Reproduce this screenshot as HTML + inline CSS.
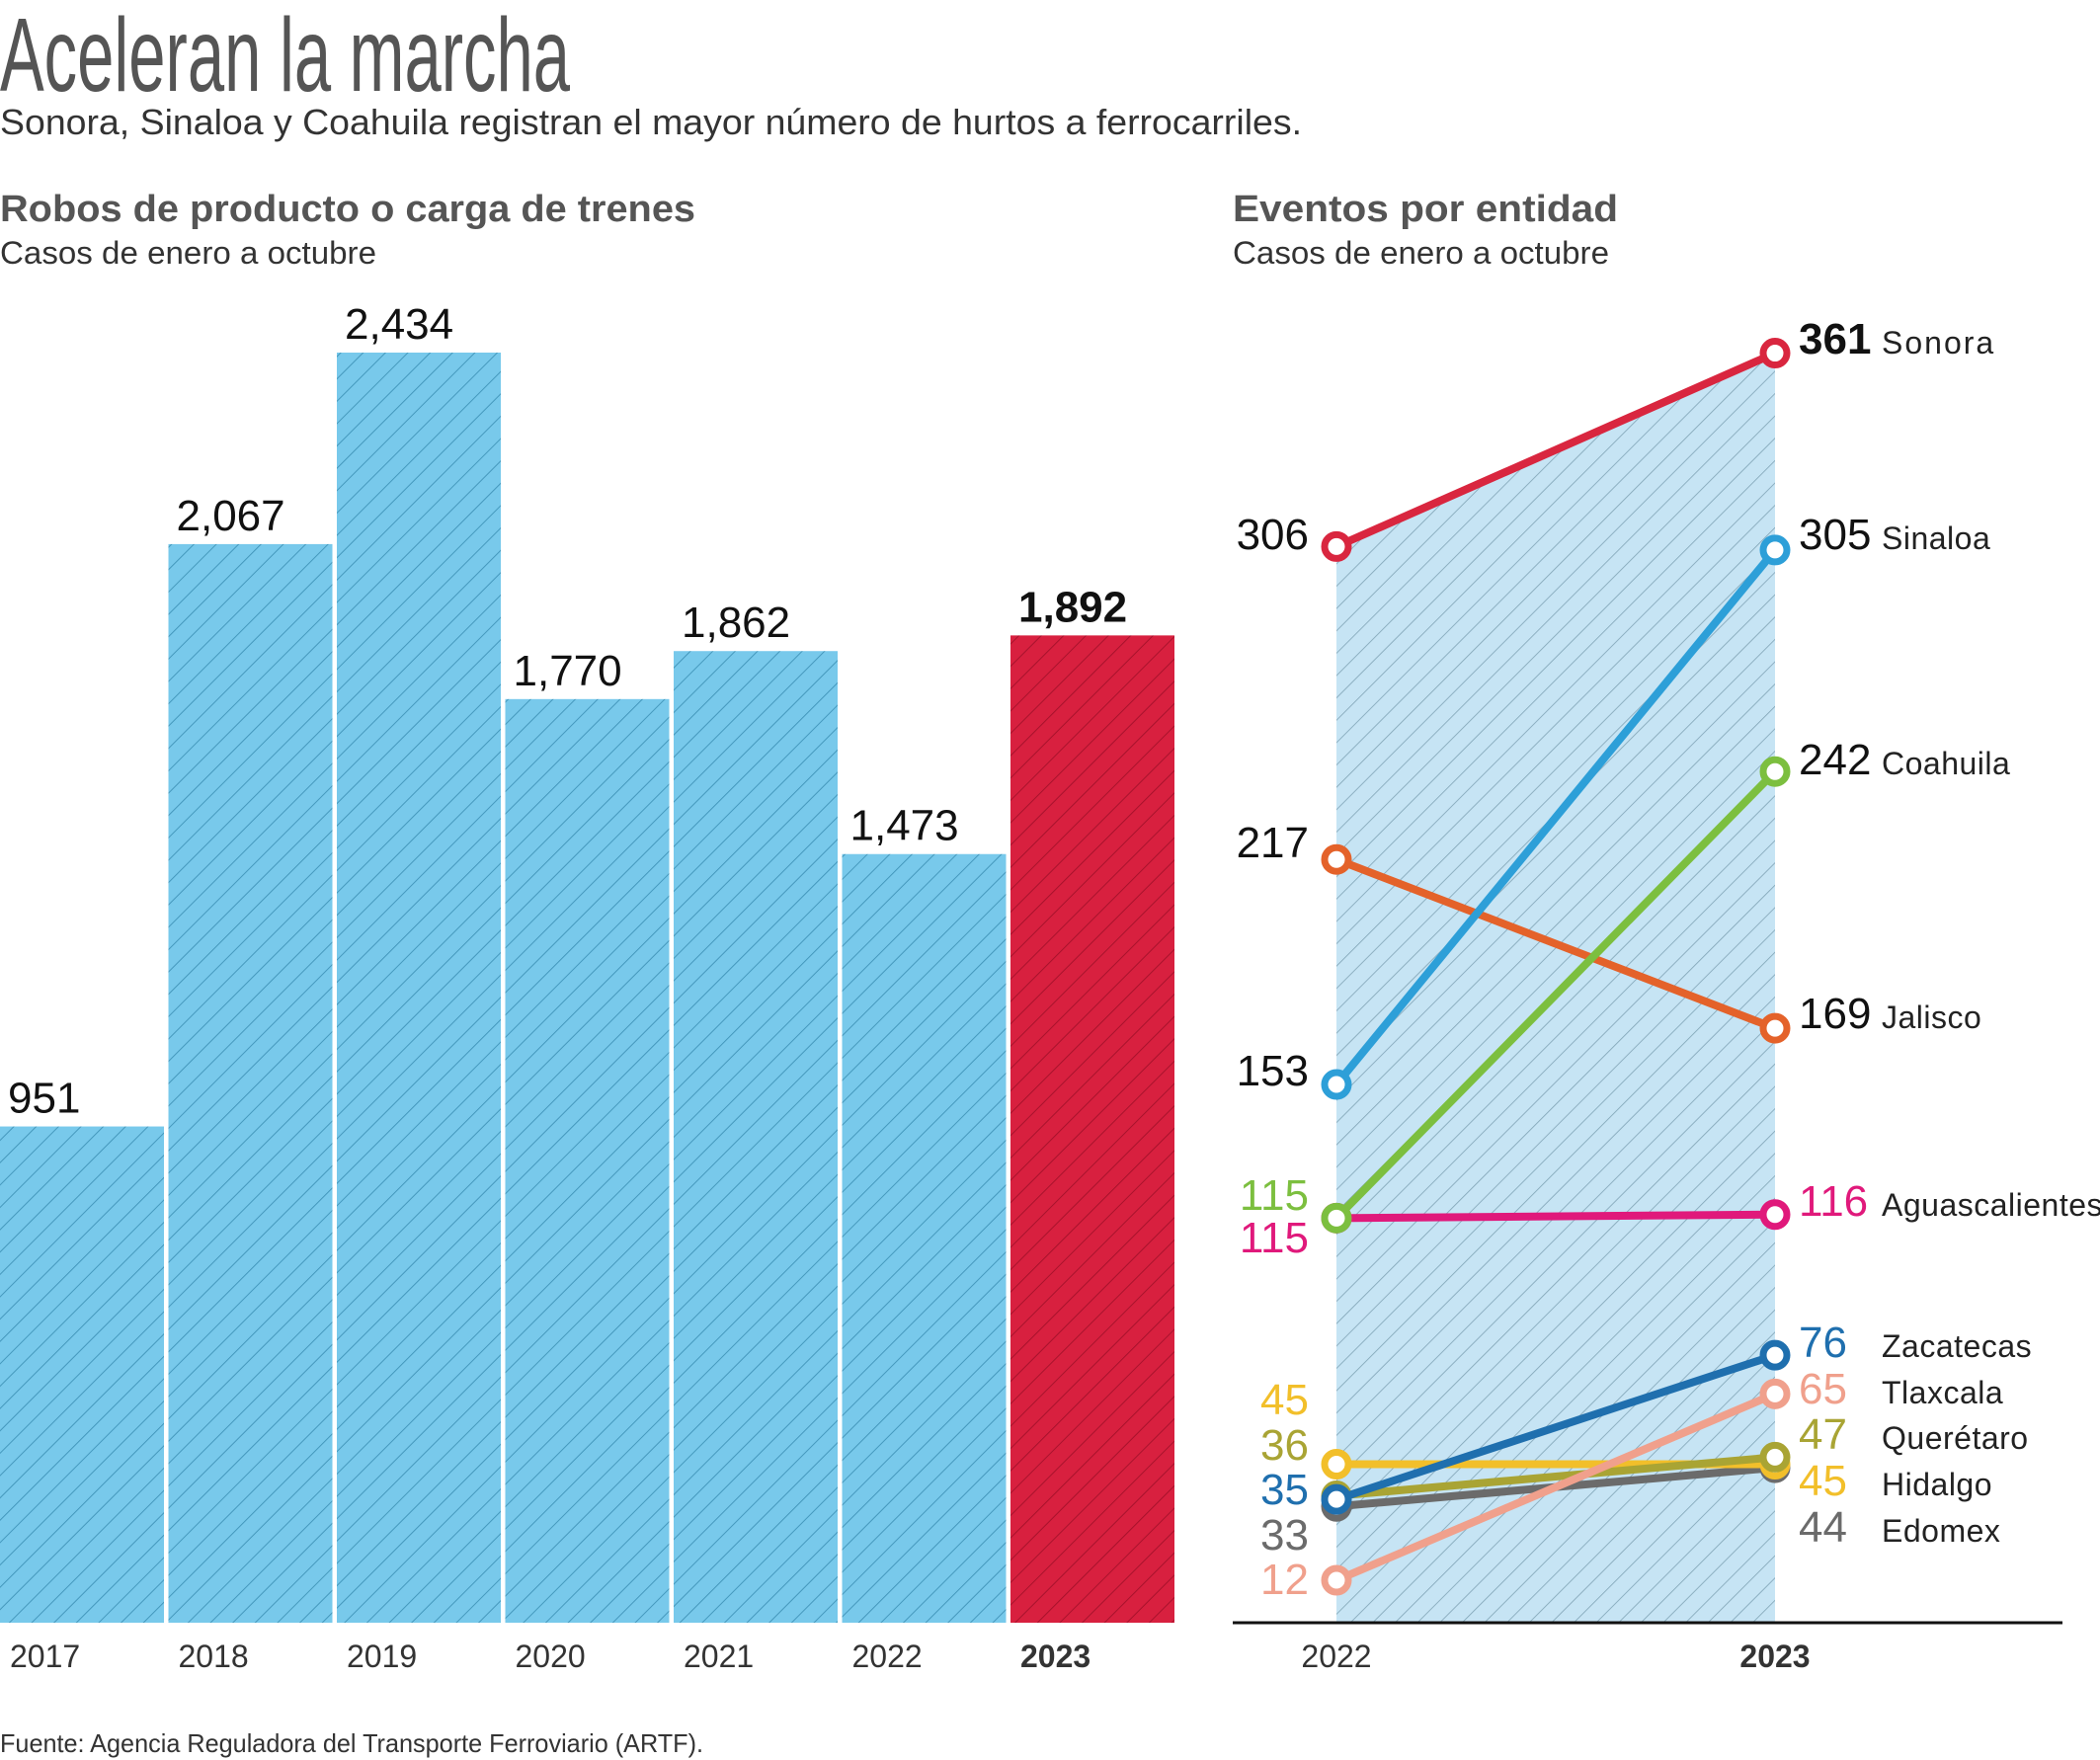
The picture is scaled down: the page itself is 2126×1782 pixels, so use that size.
<!DOCTYPE html>
<html><head><meta charset="utf-8"><style>
html,body{margin:0;padding:0;background:#fff;}
svg{display:block;font-family:"Liberation Sans",sans-serif;}
</style></head><body>
<svg id="c" width="2126" height="1782" viewBox="0 0 2126 1782" xmlns="http://www.w3.org/2000/svg">
<defs>
<pattern id="hb" patternUnits="userSpaceOnUse" width="16" height="16" patternTransform="rotate(45)">
<rect width="16" height="16" fill="#78c9eb"/><line x1="0" y1="0" x2="0" y2="16" stroke="#3f93b8" stroke-width="1.8"/></pattern>
<pattern id="hr" patternUnits="userSpaceOnUse" width="16" height="16" patternTransform="rotate(45)">
<rect width="16" height="16" fill="#d8203f"/><line x1="0" y1="0" x2="0" y2="16" stroke="#a3112a" stroke-width="1.8"/></pattern>
<pattern id="hs" patternUnits="userSpaceOnUse" width="16" height="16" patternTransform="rotate(45)">
<rect width="16" height="16" fill="#c6e4f4"/><line x1="0" y1="0" x2="0" y2="16" stroke="#7fa3b5" stroke-width="1.6"/></pattern>
</defs>
<text x="0" y="92" font-family="'Liberation Sans Narrow','Liberation Sans',sans-serif" font-size="106" fill="#555" textLength="577" lengthAdjust="spacingAndGlyphs">Aceleran la marcha</text>
<text x="0" y="136" font-size="36" fill="#333" textLength="1318" lengthAdjust="spacingAndGlyphs">Sonora, Sinaloa y Coahuila registran el mayor número de hurtos a ferrocarriles.</text>
<text x="0" y="224" font-size="38" font-weight="bold" fill="#555" textLength="704" lengthAdjust="spacingAndGlyphs">Robos de producto o carga de trenes</text>
<text x="0" y="267" font-size="32" fill="#333" textLength="381" lengthAdjust="spacingAndGlyphs">Casos de enero a octubre</text>
<text x="1248" y="224" font-size="38" font-weight="bold" fill="#555" textLength="390" lengthAdjust="spacingAndGlyphs">Eventos por entidad</text>
<text x="1248" y="267" font-size="32" fill="#333" textLength="381" lengthAdjust="spacingAndGlyphs">Casos de enero a octubre</text>
<g id="bars"></g>
<g id="slope"></g>
<text x="0" y="1774" font-size="26" fill="#333" textLength="712" lengthAdjust="spacingAndGlyphs">Fuente: Agencia Reguladora del Transporte Ferroviario (ARTF).</text>
</svg>
<script>
const years = ["2017","2018","2019","2020","2021","2022","2023"];
const robos = [951, 2067, 2434, 1770, 1862, 1473, 1892];

const states = ["Sonora","Sinaloa","Coahuila","Jalisco","Aguascalientes","Zacatecas","Tlaxcala","Querétaro","Hidalgo","Edomex"];
const v2022 = [306, 153, 115, 217, 115, 35, 12, 36, 45, 33];
const v2023 = [361, 305, 242, 169, 116, 76, 65, 47, 45, 44];
const slopeYears = ["2022","2023"];

const colors = ["#d9263f","#2d9fd8","#7cbf3f","#e4622a","#e0197b","#1f6fae","#f0a08c","#a9a434","#f2bf2a","#6b6b6b"];
const leftLabelY = [556,1099,1225,868,1268,1523,1614,1478,1432,1569];
const rightLabelY = [358,556,784,1041,1231,1374,1421,1467,1514,1561];
const NS="http://www.w3.org/2000/svg";
function mk(t,a,p){const e=document.createElementNS(NS,t);for(const k in a)e.setAttribute(k,a[k]);p.appendChild(e);return e;}

const base=1643, top2434=357, bScale=(base-top2434)/2434;
const yB=v=>base-v*bScale;
const xB=i=>i*170.5;
const bw=166;
const gb=document.getElementById('bars');
robos.forEach((v,i)=>{
  const last=i===robos.length-1;
  const r=mk('rect',{x:xB(i),y:yB(v),width:bw,height:base-yB(v),fill:last?'url(#hr)':'url(#hb)'},gb);
  
  
  const t=mk('text',{x:xB(i)+8,y:yB(v)-14,'font-size':44,fill:'#111','font-weight':last?'bold':'normal'},gb);
  t.textContent=v.toLocaleString('en-US');
  
  
  const y=mk('text',{x:xB(i)+10,y:1688,'font-size':32,fill:'#333','font-weight':last?'bold':'normal'},gb);
  y.textContent=years[i];
  
  
});

const gs=document.getElementById('slope');
const x0=1353,x1=1797;
const yS=v=>1600-(v-12)*3.56;
const bg=mk('polygon',{points:`${x0},${yS(v2022[0])} ${x1},${yS(v2023[0])} ${x1},1643 ${x0},1643`,fill:'url(#hs)'},gs);


const ax=mk('line',{x1:1248,y1:1643,x2:2088,y2:1643,stroke:'#111','stroke-width':3},gs);


slopeYears.forEach((yr,i)=>{
  const t=mk('text',{x:i?x1:x0,y:1688,'font-size':32,fill:'#333','text-anchor':'middle','font-weight':i?'bold':'normal'},gs);
  t.textContent=yr;
  
  
});
for(let i=states.length-1;i>=0;i--){
  const c=colors[i];
  const l=mk('line',{x1:x0,y1:yS(v2022[i]),x2:x1,y2:yS(v2023[i]),stroke:c,'stroke-width':8},gs);
  
  
  [[x0,v2022[i]],[x1,v2023[i]]].forEach(([x,v],j)=>{
    const p=mk('circle',{cx:x,cy:yS(v),r:12,fill:'#fff',stroke:c,'stroke-width':7},gs);
    
    
  });
}
states.forEach((s,i)=>{
  const a=mk('text',{x:1325,y:leftLabelY[i],'font-size':44,fill:(i===2||i===4||i>=5)?colors[i]:'#111','text-anchor':'end'},gs);
  a.textContent=v2022[i];
  
  
  const b=mk('text',{x:1821,y:rightLabelY[i],'font-size':44,fill:(i>=4)?colors[i]:'#111','font-weight':i===0?'bold':'normal'},gs);
  b.textContent=v2023[i];
  
  
  const n=mk('text',{x:1905,y:rightLabelY[i],'font-size':32,fill:'#222','letter-spacing':i===0?2:0.5},gs);
  n.textContent=s;
  
  
});
</script>
</body></html>
